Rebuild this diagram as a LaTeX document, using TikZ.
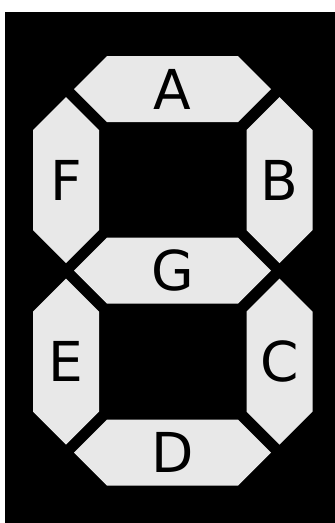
\documentclass[tikz,border=0pt]{standalone}
\usepackage{fontspec}
\setmainfont{DejaVu Sans}
\definecolor{seg}{HTML}{E8E8E8}
\tikzset{
  segfill/.style={fill=seg},
  seglabel/.style={font=\fontsize{55}{55}\selectfont, text=black, inner sep=0pt, anchor=base},
}
\newcommand{\hseg}[3]{%
  \fill[segfill] (#1-98.5,#2) -- (#1-65.5,#2-33) -- (#1+65.5,#2-33) -- (#1+98.5,#2) -- (#1+65.5,#2+33) -- (#1-65.5,#2+33) -- cycle;
  \node[seglabel] (lab#3) at (#1,#2+20) {#3};}
\newcommand{\vseg}[3]{%
  \fill[segfill] (#1,#2-83) -- (#1+33,#2-50) -- (#1+33,#2+50) -- (#1,#2+83) -- (#1-33,#2+50) -- (#1-33,#2-50) -- cycle;
  \node[seglabel] (lab#3) at (#1,#2+20) {#3};}
\begin{document}
\begin{tikzpicture}[x=1pt,y=-1pt]
\useasboundingbox (0,0) rectangle (335,523);
\fill[white] (0,0) rectangle (335,523);
\fill[black] (5,12) rectangle (335,523);
\hseg{172.5}{89}{A}
\hseg{172.5}{270.5}{G}
\hseg{172.5}{452.5}{D}
\vseg{66}{180}{F}
\vseg{279.5}{180}{B}
\vseg{66}{361.5}{E}
\vseg{279.5}{361.5}{C}
\end{tikzpicture}
\end{document}
